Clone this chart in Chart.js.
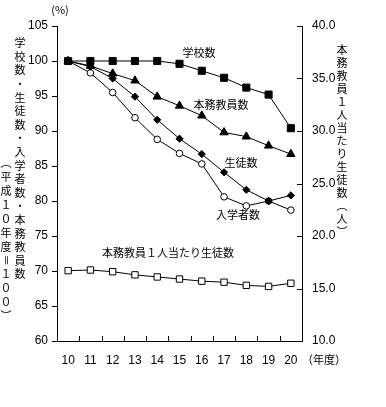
<!DOCTYPE html>
<html>
<head>
<meta charset="utf-8">
<script src="https://cdn.jsdelivr.net/npm/chart.js@4/dist/chart.umd.min.js"></script>
<style>
  body { margin: 0; background: #fff; }
  canvas { display: block; }
</style>
</head>
<body>
<canvas id="chart" width="386" height="407"></canvas>
<script>
// 平成10年度 = 100
const years = ['10', '11', '12', '13', '14', '15', '16', '17', '18', '19', '20'];
const schools = [100, 100, 100, 100, 100, 99.6, 98.6, 97.6, 96.2, 95.2, 90.4];
const teachers = [100, 99.3, 98.2, 97.2, 94.9, 93.6, 92.2, 89.8, 89.2, 87.9, 86.7];
const students = [100, 99.2, 97.5, 94.9, 91.6, 88.9, 86.7, 84.1, 81.6, 80.0, 80.8];
const entrants = [100, 98.3, 95.5, 91.9, 88.8, 86.8, 85.3, 80.6, 79.3, 80.0, 78.7];
// 本務教員1人当たり生徒数（人） right axis
const perTeacher = [16.7, 16.76, 16.6, 16.3, 16.1, 15.9, 15.7, 15.6, 15.3, 15.2, 15.5];

const jp = '"Noto Sans CJK JP", sans-serif';

function vtext(ctx, str, x, y, pitch) {
  const chars = Array.from(str);
  chars.forEach(function(c, i) {
    const cy = y + i * pitch;
    if (c === '＝') {
      ctx.save();
      ctx.translate(x, cy);
      ctx.rotate(Math.PI / 2);
      ctx.fillText(c, 0, 0);
      ctx.restore();
    } else {
      ctx.fillText(c, x, cy);
    }
  });
}

const extras = {
  id: 'extras',
  afterDraw(chart) {
    const ctx = chart.ctx;
    const xs = chart.scales.x;
    const y1 = chart.scales.y1;
    ctx.save();
    ctx.strokeStyle = '#000';
    ctx.lineWidth = 1;
    // inward tick marks on the x axis, between categories
    for (let i = 0; i < years.length - 1; i++) {
      const px = Math.round((xs.getPixelForValue(i) + xs.getPixelForValue(i + 1)) / 2) + 0.5;
      ctx.beginPath();
      ctx.moveTo(px, xs.top);
      ctx.lineTo(px, xs.top - 5);
      ctx.stroke();
    }
    // inward tick marks on the right axis
    y1.ticks.forEach(function(t) {
      const py = Math.round(y1.getPixelForValue(t.value)) + 0.5;
      ctx.beginPath();
      ctx.moveTo(y1.left - 5, py);
      ctx.lineTo(y1.left, py);
      ctx.stroke();
    });

    ctx.fillStyle = '#000';
    ctx.textAlign = 'center';
    ctx.textBaseline = 'middle';
    ctx.font = '11px ' + jp;
    ctx.fillText('学校数', 199, 53);
    ctx.fillText('本務教員数', 221, 105);
    ctx.fillText('生徒数', 241, 163);
    ctx.fillText('入学者数', 238, 215);
    ctx.fillText('本務教員１人当たり生徒数', 168, 253);
    ctx.fillText('(%)', 60, 10);
    ctx.fillText('（年度）', 324, 360);

    vtext(ctx, '学校数・生徒数・入学者数・本務教員数', 20, 43, 13.6);
    vtext(ctx, '︵平成１０年度＝１００︶', 6, 163, 13.9);
    vtext(ctx, '本務教員１人当たり生徒数︵人︶', 342, 50, 13);
    ctx.restore();
  }
};

function series(label, data, style, radius, fill, axis) {
  return {
    label: label,
    data: data,
    yAxisID: axis,
    borderColor: '#000',
    borderWidth: 1,
    pointStyle: style,
    pointRadius: radius,
    pointBackgroundColor: fill,
    pointBorderColor: '#000',
    pointBorderWidth: 1,
    tension: 0
  };
}

new Chart(document.getElementById('chart'), {
  type: 'line',
  data: {
    labels: years,
    datasets: [
      series('本務教員1人当たり生徒数', perTeacher, 'rect', 4.5, '#fff', 'y1'),
      series('学校数', schools, 'rect', 5, '#000', 'y'),
      series('本務教員数', teachers, 'triangle', 4.8, '#000', 'y'),
      series('生徒数', students, 'rectRot', 3.6, '#000', 'y'),
      series('入学者数', entrants, 'circle', 3.3, '#fff', 'y')
    ]
  },
  options: {
    responsive: false,
    animation: false,
    devicePixelRatio: 1,
    layout: { padding: { top: 26, left: 0, right: 0, bottom: 0 } },
    plugins: {
      legend: { display: false },
      tooltip: { enabled: false }
    },
    scales: {
      x: {
        offset: true,
        grid: { display: true, offset: true, drawOnChartArea: false, drawTicks: false },
        border: { color: '#000', width: 1 },
        ticks: { color: '#000', font: { family: 'Liberation Sans', size: 12 }, padding: 12, maxRotation: 0 },
        afterFit: function(scale) { scale.height = 66; }
      },
      y: {
        position: 'left',
        min: 60,
        max: 105,
        grid: { drawOnChartArea: false, drawTicks: true, tickLength: 5, color: '#000' },
        border: { color: '#000', width: 1 },
        ticks: { stepSize: 5, color: '#000', font: { family: 'Liberation Sans', size: 12 }, padding: 4 },
        afterFit: function(scale) { scale.width = 57; }
      },
      y1: {
        position: 'right',
        min: 10,
        max: 40,
        grid: { drawOnChartArea: false, drawTicks: false },
        border: { color: '#000', width: 1 },
        ticks: {
          stepSize: 5,
          color: '#000',
          font: { family: 'Liberation Sans', size: 12 },
          padding: 10,
          callback: function(v) { return v.toFixed(1); }
        },
        afterFit: function(scale) { scale.width = 84; }
      }
    }
  },
  plugins: [extras]
});
</script>
</body>
</html>
